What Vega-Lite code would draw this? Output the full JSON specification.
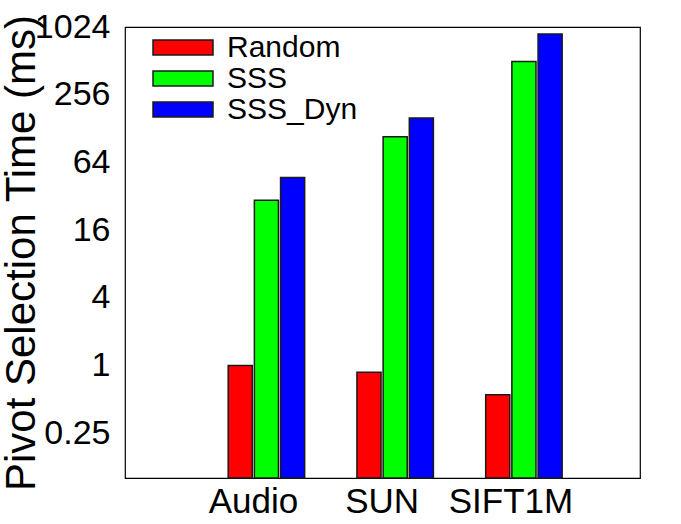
{
  "$schema": "https://vega.github.io/schema/vega-lite/v6.json",
  "width": 515,
  "height": 451,
  "autosize": "none",
  "padding": {"left": 125, "top": 27, "right": 41, "bottom": 46},
  "background": "white",
  "config": {"font": "Liberation Sans", "view": {"stroke": "#000", "strokeWidth": 1.2}},
  "data": {"values": [
    {"dataset": "Audio", "method": "Random", "time": 1.0},
    {"dataset": "Audio", "method": "SSS", "time": 29.5},
    {"dataset": "Audio", "method": "SSS_Dyn", "time": 47},
    {"dataset": "SUN", "method": "Random", "time": 0.87},
    {"dataset": "SUN", "method": "SSS", "time": 108},
    {"dataset": "SUN", "method": "SSS_Dyn", "time": 159},
    {"dataset": "SIFT1M", "method": "Random", "time": 0.55},
    {"dataset": "SIFT1M", "method": "SSS", "time": 504},
    {"dataset": "SIFT1M", "method": "SSS_Dyn", "time": 887}
  ]},
  "mark": {"type": "bar", "stroke": "#1a1a1a", "strokeWidth": 1.5},
  "encoding": {
    "x": {
      "field": "dataset", "type": "nominal", "sort": ["Audio", "SUN", "SIFT1M"],
      "scale": {"paddingInner": 0.406, "paddingOuter": 0.703, "align": 0.57},
      "axis": {"title": null, "labelAngle": 0, "labelFontSize": 35, "labelColor": "#000", "ticks": false, "domain": false, "labelPadding": 6, "labelOffset": -13}
    },
    "xOffset": {
      "field": "method", "type": "nominal", "sort": ["Random", "SSS", "SSS_Dyn"],
      "scale": {"paddingInner": 0.08, "paddingOuter": 0}
    },
    "y": {
      "field": "time", "type": "quantitative",
      "scale": {"type": "log", "base": 4, "domain": [0.1, 1024]},
      "axis": {
        "values": [0.25, 1, 4, 16, 64, 256, 1024], "format": "~g",
        "title": "Pivot Selection Time (ms)", "titleFontSize": 42, "titleFontWeight": "normal", "titleColor": "#000",
        "titleX": -91, "titleY": 225.5, "titleBaseline": "alphabetic", "titleAngle": -90,
        "labelFontSize": 34, "labelColor": "#000", "labelPadding": 15,
        "ticks": false, "tickSize": 0, "domain": false, "grid": false
      }
    },
    "y2": {"datum": 0.1},
    "color": {
      "field": "method", "type": "nominal",
      "scale": {"domain": ["Random", "SSS", "SSS_Dyn"], "range": ["#ff0000", "#00ff00", "#0000ff"]},
      "legend": {
        "title": null, "orient": "none", "legendX": 27, "legendY": 6,
        "symbolType": "M-1,-0.25H1V0.25H-1Z", "symbolSize": 3600,
        "symbolStrokeColor": "#1a1a1a", "symbolStrokeWidth": 1.5, "symbolOpacity": 1,
        "labelFontSize": 30, "labelColor": "#000", "labelOffset": 13,
        "clipHeight": 29, "rowPadding": 0, "padding": 0
      }
    }
  }
}
